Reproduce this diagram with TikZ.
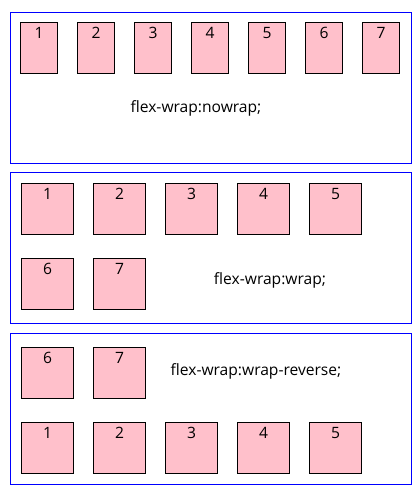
\documentclass[tikz,border=0pt]{standalone}
\usepackage{fontspec}
\setmainfont{Open Sans}
\usepackage{tikz}
\usetikzlibrary{positioning}

\definecolor{itempink}{RGB}{255,192,203}
\definecolor{flexblue}{RGB}{0,0,255}

\begin{document}
\begin{tikzpicture}[
    x=1pt, y=-1pt,
    every node/.style={font=\fontsize{15.6}{18}\selectfont},
    container/.style={
        draw=flexblue, line width=1pt, minimum width=401pt, minimum height=151pt,
        anchor=north west, inner sep=0pt
    },
    item/.style={
        draw=black, fill=itempink, line width=1pt, minimum width=#1,
        text height=16pt, text depth=35pt, inner xsep=0pt, inner ysep=0pt
    },
    tallitem/.style={item=36.4pt},
    squareitem/.style={item=51.4pt},
    caption/.style={anchor=center}
]
\useasboundingbox (0,0) rectangle (419,490);

% Container 1: nowrap
\node[container] (nowrapbox) at (9.5,11.5) {};
\node[tallitem, anchor=north west] (n1) at (20.3,22.3) {1};
\node[tallitem, right=19.6pt of n1] (n2) {2};
\node[tallitem, right=19.6pt of n2] (n3) {3};
\node[tallitem, right=19.6pt of n3] (n4) {4};
\node[tallitem, right=19.6pt of n4] (n5) {5};
\node[tallitem, right=19.6pt of n5] (n6) {6};
\node[tallitem, right=19.6pt of n6] (n7) {7};
\node[caption] (nowraplabel) at (196,108) {flex-wrap:nowrap;};

% Container 2: wrap
\node[container] (wrapbox) at (10.3,172.3) {};
\node[squareitem, anchor=north west] (w1) at (21.3,183.3) {1};
\node[squareitem, right=19.6pt of w1] (w2) {2};
\node[squareitem, right=19.6pt of w2] (w3) {3};
\node[squareitem, right=19.6pt of w3] (w4) {4};
\node[squareitem, right=19.6pt of w4] (w5) {5};
\node[squareitem, below=23pt of w1] (w6) {6};
\node[squareitem, right=19.6pt of w6] (w7) {7};
\node[caption] (wraplabel) at (270,280) {flex-wrap:wrap;};

% Container 3: wrap-reverse
\node[container] (reversebox) at (10.3,333.3) {};
\node[squareitem, anchor=north west] (r6) at (21.3,347.3) {6};
\node[squareitem, right=19.6pt of r6] (r7) {7};
\node[squareitem, below=23pt of r6] (r1) {1};
\node[squareitem, right=19.6pt of r1] (r2) {2};
\node[squareitem, right=19.6pt of r2] (r3) {3};
\node[squareitem, right=19.6pt of r3] (r4) {4};
\node[squareitem, right=19.6pt of r4] (r5) {5};
\node[caption] (reverselabel) at (256,371.7) {flex-wrap:wrap-reverse;};

\end{tikzpicture}
\end{document}
